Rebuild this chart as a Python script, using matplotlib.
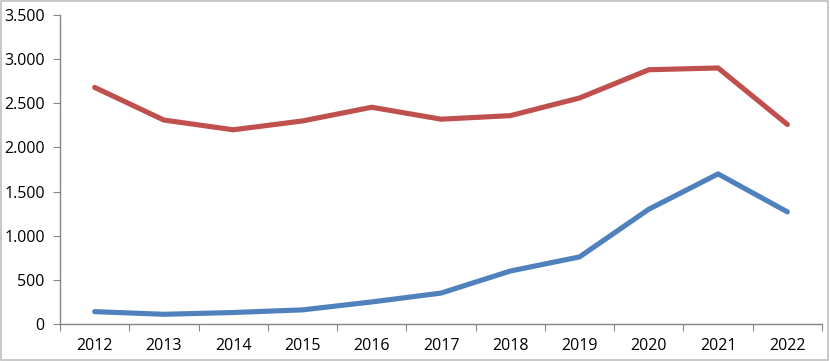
import matplotlib.pyplot as plt
from matplotlib.ticker import FuncFormatter
from matplotlib.patches import Rectangle

years = ["2012", "2013", "2014", "2015", "2016", "2017", "2018", "2019", "2020", "2021", "2022"]
red_vals = [2680, 2310, 2200, 2300, 2455, 2320, 2360, 2560, 2880, 2900, 2260]
blue_vals = [140, 110, 130, 160, 250, 350, 600, 760, 1300, 1700, 1270]

fig = plt.figure(figsize=(8.3, 3.61), dpi=100)
ax = fig.add_axes([60 / 830, 1 - 324 / 361, 762 / 830, 309 / 361])

x = range(len(years))
ax.plot(x, red_vals, color="#C0504D", lw=3.7, solid_capstyle="round", solid_joinstyle="round")
ax.plot(x, blue_vals, color="#4F81BD", lw=3.7, solid_capstyle="round", solid_joinstyle="round")

ax.set_xlim(-0.5, len(years) - 0.5)
ax.set_ylim(0, 3500)
ax.set_yticks(range(0, 3501, 500))
ax.yaxis.set_major_formatter(FuncFormatter(lambda v, p: f"{int(v):,}".replace(",", ".")))

# category labels between boundary ticks
ax.set_xticks([i - 0.5 for i in range(len(years) + 1)])
ax.set_xticklabels([])
ax.set_xticks(list(x), minor=True)
ax.set_xticklabels(years, minor=True)
ax.tick_params(axis="x", which="minor", length=0, pad=10)
ax.tick_params(axis="x", which="major", length=5, color="#868686")
ax.tick_params(axis="y", length=5, color="#868686", pad=6)
for lab in ax.get_xticklabels(minor=True) + ax.get_yticklabels():
    lab.set_fontsize(11.5)
    lab.set_family("Open Sans")

for s in ["top", "right"]:
    ax.spines[s].set_visible(False)
for s in ["left", "bottom"]:
    ax.spines[s].set_color("#868686")
    ax.spines[s].set_linewidth(1)

fig.patches.append(Rectangle((0.001, 0.002), 0.997, 0.995, transform=fig.transFigure,
                             fill=False, edgecolor="#BFBFBF", lw=1.2))

fig.savefig("out.png", dpi=100)
